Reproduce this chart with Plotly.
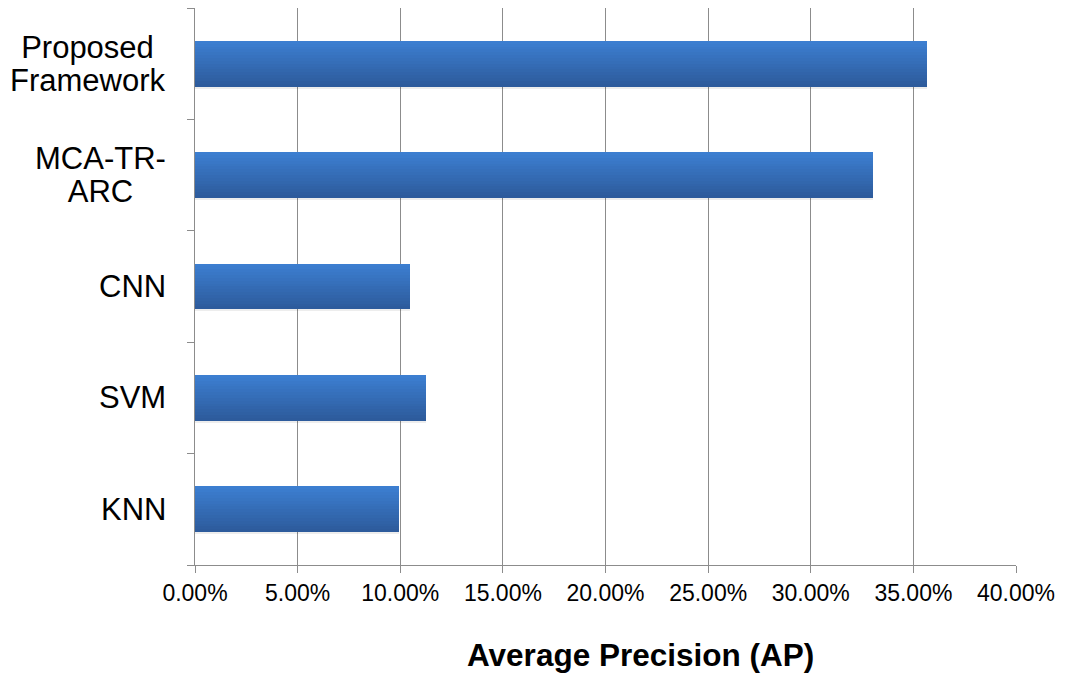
import plotly.graph_objects as go

categories = ["KNN", "SVM", "CNN", "MCA-TR-<br>ARC", "Proposed<br>Framework"]
values = [0.0994, 0.1125, 0.1047, 0.3302, 0.3566]
x_ticks = [0, 0.05, 0.10, 0.15, 0.20, 0.25, 0.30, 0.35, 0.40]
axis_title = "Average Precision (AP)"

FONT = "Liberation Sans, Arial, sans-serif"
fig = go.Figure()

bar_w = 0.41
n = 16
top = (60, 126, 208)
bot = (45, 91, 156)

# soft shadow
fig.add_trace(go.Bar(
    y=categories, x=values, orientation="h", width=bar_w, offset=-bar_w / 2 - 0.018,
    marker=dict(color="rgba(0,0,0,0.07)", line=dict(width=0)), hoverinfo="skip", showlegend=False,
))

stripe = bar_w / n
for i in range(n):
    t = i / (n - 1)
    c = tuple(round(top[k] + (bot[k] - top[k]) * t) for k in range(3))
    fig.add_trace(go.Bar(
        y=categories, x=values, orientation="h",
        width=stripe * 1.02, offset=bar_w / 2 - (i + 1) * stripe,
        marker=dict(color="rgb(%d,%d,%d)" % c, line=dict(width=0)),
        hoverinfo="skip", showlegend=False,
    ))

for cat in categories:
    styled = "<br>".join('<span style="font-size:31px">%s</span>' % s for s in cat.split("<br>"))
    fig.add_annotation(
        x=-0.033, xref="paper", y=cat, yref="y", text=styled, showarrow=False,
        xanchor="right", yanchor="middle", align="center",
        font=dict(family=FONT, size=25.4, color="#000"),
    )

fig.add_annotation(
    x=0.543, xref="paper", y=-0.1616, yref="paper", text="<b>%s</b>" % axis_title,
    showarrow=False, xanchor="center", yanchor="middle",
    font=dict(family=FONT, size=31.5, color="#000"),
)

fig.update_layout(
    width=1065, height=673,
    margin=dict(l=195, r=49, t=8, b=108),
    paper_bgcolor="white", plot_bgcolor="white",
    barmode="overlay", bargap=0,
    font=dict(family=FONT, color="#000"),
)
fig.update_xaxes(
    range=[0, 0.4], tickvals=x_ticks, tickformat=".2%",
    showgrid=True, gridcolor="#8c8c8c", gridwidth=1,
    showline=True, linecolor="#8c8c8c", linewidth=1,
    ticks="outside", ticklen=7, tickcolor="#8c8c8c",
    tickfont=dict(size=23, family=FONT), zeroline=False,
)
fig.update_yaxes(
    type="category", categoryorder="array", categoryarray=categories,
    showticklabels=False, showgrid=False, zeroline=False,
    showline=True, linecolor="#8c8c8c", linewidth=1,
    ticks="outside", ticklen=7, tickcolor="#8c8c8c", tickson="boundaries",
    range=[-0.5, 4.5],
)

fig.write_html("out.html", config={"displayModeBar": False},
               post_script="document.body.style.margin='0';")
